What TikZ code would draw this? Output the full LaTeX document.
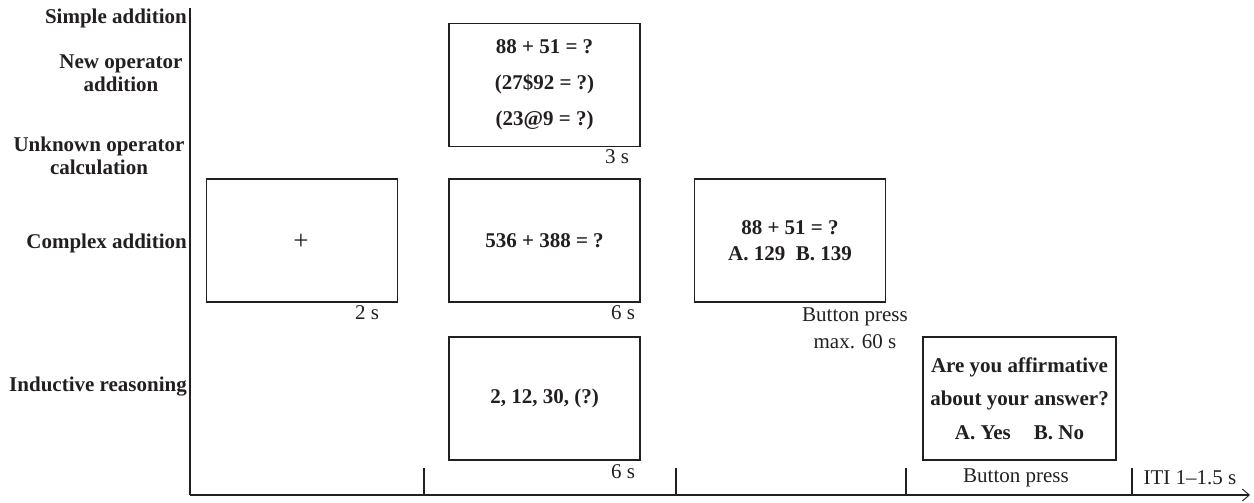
\documentclass[tikz,border=0pt]{standalone}
\usepackage{fontspec}
\setmainfont{Liberation Serif}
\usetikzlibrary{arrows.meta}
\definecolor{ink}{HTML}{231F20}
\begin{document}
\begin{tikzpicture}[x=1pt,y=-1pt,
  every node/.style={text=ink, inner sep=0pt},
  lbl/.style={font=\bfseries\fontsize{21}{23}\selectfont, align=center},
  screen/.style={draw=ink, line width=1.2pt, minimum width=191pt, minimum height=123pt,
                 font=\bfseries\fontsize{21}{24}\selectfont, align=center},
  dur/.style={font=\fontsize{21}{27}\selectfont, align=center},
  axis/.style={draw=ink, line width=1.1pt},
  tick/.style={draw=ink, line width=1.1pt}]
\useasboundingbox (0,0) rectangle (1254,503);

% axes
\coordinate (top) at (190,8);
\coordinate (origin) at (190,495);
\coordinate (tip) at (1250,495);
\draw[axis] (top) -- (origin);
\draw[axis, -{Straight Barb[length=7pt, width=12pt, line width=0.9pt]}] (origin) -- (tip);

% time-segment ticks
\foreach \tx [count=\i] in {424,676,906,1132}{
  \coordinate (t\i) at (\tx,468);
  \coordinate (b\i) at (\tx,495);
  \draw[tick] (t\i) -- (b\i);
}

% task labels on the left
\node[lbl, anchor=east] (simple) at (187,18) {Simple addition};
\node[lbl] (newop) at (121,73) {New operator\\addition};
\node[lbl] (unknown) at (99,156) {Unknown operator\\calculation};
\node[lbl, anchor=east] (complex) at (187,243) {Complex addition};
\node[lbl, anchor=east] (induct) at (187,387) {Inductive reasoning};

% fixation
\node[screen] (fix) at (302,240.5) {};
\node[font=\fontsize{27}{30}\selectfont] (plus) at (301,242) {+};
\node[dur] (d2) at (367,313) {2 s};

% problem screens
\node[screen, font=\bfseries\fontsize{21}{36}\selectfont] (opbox) at (544.5,85)
  {88 + 51 = ?\\(27\$92 = ?)\\(23@9 = ?)};
\node[dur] (d3) at (617,157) {3 s};

\node[screen] (cplx) at (544.5,240.5) {536 + 388 = ?};
\node[dur] (d6a) at (623,313) {6 s};

\node[screen] (ind) at (544.5,398.5) {2, 12, 30, (?)};
\node[dur] (d6b) at (623,472) {6 s};

% answer screen
\node[screen, font=\bfseries\fontsize{21}{26}\selectfont] (ans) at (790,240.5)
  {88 + 51 = ?\\A. 129\enspace B. 139};
\node[dur] (bp1) at (855,328.5) {Button press\\max. 60 s};

% confidence screen
\node[screen, minimum width=193pt, font=\bfseries\fontsize{21}{33.5}\selectfont] (conf) at (1019.5,398.5)
  {Are you affirmative\\about your answer?\\A. Yes\hspace{1.1em}B. No};
\node[dur] (bp2) at (1016,478) {Button press};
\node[dur] (iti) at (1190,478) {ITI 1--1.5 s};
\end{tikzpicture}
\end{document}
